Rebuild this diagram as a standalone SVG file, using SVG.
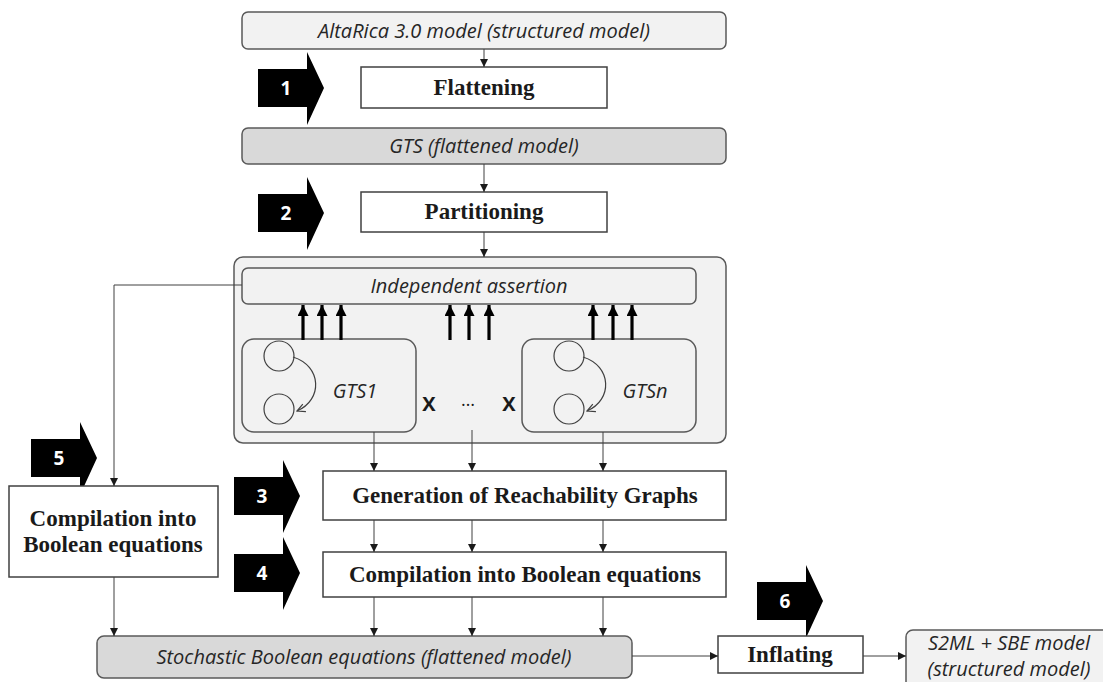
<svg xmlns="http://www.w3.org/2000/svg" width="1103" height="682" viewBox="0 0 1103 682">
  <style>
    .model { stroke: #595959; stroke-width: 1.5; }
    .light { fill: #f2f2f2; }
    .grey { fill: #d9d9d9; }
    .step { fill: #ffffff; stroke: #404040; stroke-width: 1.5; }
    .it { font-family: "Open Sans", "Liberation Sans", sans-serif; font-style: italic; font-size: 20px; fill: #262626; text-anchor: middle; }
    .bold { font-family: "Liberation Serif", serif; font-weight: bold; font-size: 23px; fill: #1a1a1a; text-anchor: middle; }
    .num { font-family: "Open Sans", "Liberation Sans", sans-serif; font-weight: bold; font-size: 19px; fill: #ffffff; text-anchor: middle; }
    .conn { stroke: #404040; stroke-width: 1; fill: none; }
    .thick { stroke: #000000; stroke-width: 3.2; fill: none; }
    .circ { fill: none; stroke: #404040; stroke-width: 1.2; }
  </style>
  <defs>
    <marker id="tri" viewBox="0 0 10 10" refX="10" refY="5" markerWidth="8" markerHeight="8" markerUnits="userSpaceOnUse" orient="auto">
      <path d="M0,0 L10,5 L0,10 z" fill="#1a1a1a"/>
    </marker>
    <marker id="big" viewBox="0 0 10 10" refX="10" refY="5" markerWidth="11" markerHeight="11" markerUnits="userSpaceOnUse" orient="auto">
      <path d="M0,0 L10,5 L0,10 z" fill="#000000"/>
    </marker>
    <marker id="open" viewBox="0 0 10 10" refX="9" refY="5" markerWidth="10" markerHeight="10" markerUnits="userSpaceOnUse" orient="auto">
      <path d="M1,1 L9,5 L1,9" fill="none" stroke="#404040" stroke-width="1.2"/>
    </marker>
    <path id="stepArrow" d="M0,17 L49,17 L49,0 L66,36 L49,73 L49,55 L0,55 z" fill="#000000"/>
  </defs>

  <rect width="1103" height="682" fill="#ffffff"/>

  <!-- step markers -->
  <g id="step1"><use href="#stepArrow" x="258" y="52"/><text class="num" x="286" y="95">1</text></g>
  <g id="step2"><use href="#stepArrow" x="258" y="177"/><text class="num" x="286" y="220">2</text></g>
  <g id="step3"><use href="#stepArrow" x="234" y="460"/><text class="num" x="262" y="503">3</text></g>
  <g id="step4"><use href="#stepArrow" x="234" y="537"/><text class="num" x="262" y="580">4</text></g>
  <g id="step5"><use href="#stepArrow" x="31" y="422"/><text class="num" x="59" y="465">5</text></g>
  <g id="step6"><use href="#stepArrow" x="757" y="565"/><text class="num" x="785" y="608">6</text></g>

  <!-- models and processing steps -->
  <g id="altarica">
    <rect class="model light" x="242" y="12" width="484" height="37" rx="6"/>
    <text class="it" x="484" y="38">AltaRica 3.0 model (structured model)</text>
  </g>
  <g id="flattening">
    <rect class="step" x="361" y="67" width="246" height="41"/>
    <text class="bold" x="484" y="95">Flattening</text>
  </g>
  <g id="gts">
    <rect class="model grey" x="242" y="128" width="484" height="36" rx="6"/>
    <text class="it" x="484" y="153">GTS (flattened model)</text>
  </g>
  <g id="partitioning">
    <rect class="step" x="361" y="192" width="246" height="40"/>
    <text class="bold" x="484" y="219">Partitioning</text>
  </g>

  <g id="partition">
    <rect class="model light" x="234" y="257" width="492" height="186" rx="9"/>
    <g id="assertion">
      <rect class="model light" x="242" y="268" width="454" height="36" rx="6"/>
      <text class="it" x="469" y="293">Independent assertion</text>
    </g>
    <g id="gts1">
      <rect class="model light" x="242" y="339" width="174" height="93" rx="12"/>
      <circle class="circ" cx="279" cy="356" r="15"/>
      <circle class="circ" cx="279" cy="409" r="15"/>
      <path class="circ" d="M293,357 C322,366 323,400 297,411" marker-end="url(#open)"/>
      <text class="it" x="355" y="398">GTS1</text>
    </g>
    <g id="gtsn">
      <rect class="model light" x="522" y="339" width="174" height="93" rx="12"/>
      <circle class="circ" cx="569" cy="356" r="15"/>
      <circle class="circ" cx="569" cy="409" r="15"/>
      <path class="circ" d="M583,357 C612,366 613,400 587,411" marker-end="url(#open)"/>
      <text class="it" x="645" y="398">GTSn</text>
    </g>
    <g id="product" font-family="'Open Sans', 'Liberation Sans', sans-serif" font-size="20" font-weight="bold" fill="#1a1a1a" text-anchor="middle">
      <text x="429" y="411">X</text>
      <text x="468" y="406" font-weight="normal" font-size="18">…</text>
      <text x="509" y="411">X</text>
    </g>
    <g id="dependencies" marker-end="url(#big)">
      <path class="thick" d="M303,340 V305"/><path class="thick" d="M322,340 V305"/><path class="thick" d="M341,340 V305"/>
      <path class="thick" d="M450,340 V305"/><path class="thick" d="M469,340 V305"/><path class="thick" d="M489,340 V305"/>
      <path class="thick" d="M593,340 V305"/><path class="thick" d="M613,340 V305"/><path class="thick" d="M632,340 V305"/>
    </g>
  </g>

  <g id="reachability">
    <rect class="step" x="323" y="471" width="403" height="49"/>
    <text class="bold" x="525" y="503">Generation of Reachability Graphs</text>
  </g>
  <g id="compilation">
    <rect class="step" x="323" y="552" width="403" height="45"/>
    <text class="bold" x="525" y="582">Compilation into Boolean equations</text>
  </g>
  <g id="direct-compilation">
    <rect class="step" x="9" y="486" width="209" height="91"/>
    <text class="bold" x="113" y="526">Compilation into</text>
    <text class="bold" x="113" y="552">Boolean equations</text>
  </g>
  <g id="sbe">
    <rect class="model grey" x="97" y="636" width="535" height="42" rx="7"/>
    <text class="it" x="364" y="664">Stochastic Boolean equations (flattened model)</text>
  </g>
  <g id="inflating">
    <rect class="step" x="718" y="636" width="145" height="37"/>
    <text class="bold" x="790" y="662">Inflating</text>
  </g>
  <g id="s2ml">
    <rect class="model light" x="906" y="630" width="210" height="62" rx="7"/>
    <text class="it" x="1009" y="650">S2ML + SBE model</text>
    <text class="it" x="1009" y="676">(structured model)</text>
  </g>

  <!-- connectors -->
  <g id="connectors" class="conn" marker-end="url(#tri)">
    <path d="M484,49 V67"/>
    <path d="M484,164 V192"/>
    <path d="M484,232 V257"/>
    <path d="M242,285 H114 V486"/>
    <path d="M374,432 V471"/>
    <path d="M472,430 V471"/>
    <path d="M603,432 V471"/>
    <path d="M374,520 V552"/>
    <path d="M472,520 V552"/>
    <path d="M603,520 V552"/>
    <path d="M374,597 V636"/>
    <path d="M472,597 V636"/>
    <path d="M603,597 V636"/>
    <path d="M114,577 V636"/>
    <path d="M632,656 H718"/>
    <path d="M863,656 H906"/>
  </g>
</svg>
